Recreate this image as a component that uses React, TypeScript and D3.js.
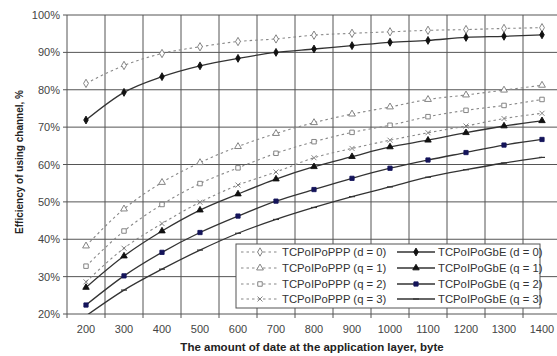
import React, { useRef, useEffect } from "react";
import * as d3 from "d3";

// packet sizes on the x axis (category axis, Excel style)
const sizes = ["200", "300", "400", "500", "600", "700", "800", "900", "1000", "1100", "1200", "1300", "1400"];
const yTicks = [20, 30, 40, 50, 60, 70, 80, 90, 100];

// efficiency, %
const pppD0 = [81.7, 86.5, 89.7, 91.5, 92.9, 93.6, 94.6, 95.1, 95.5, 95.9, 96.1, 96.4, 96.6];
const pppQ1 = [38.2, 48.1, 55.2, 60.5, 64.8, 68.3, 71.2, 73.5, 75.4, 77.4, 78.6, 79.9, 81.2];
const pppQ2 = [32.8, 42.2, 49.3, 54.9, 59.1, 63.0, 66.1, 68.6, 70.5, 72.8, 74.5, 75.8, 77.4];
const pppQ3 = [28.6, 37.6, 44.2, 49.9, 54.5, 58.0, 61.8, 64.3, 66.5, 68.5, 70.3, 72.3, 73.7];
const gbeD0 = [71.9, 79.3, 83.5, 86.4, 88.4, 90.0, 90.9, 91.8, 92.7, 93.2, 94.0, 94.3, 94.7];
const gbeQ1 = [27.1, 35.5, 42.2, 47.8, 52.1, 56.1, 59.4, 62.1, 64.7, 66.5, 68.5, 70.3, 71.7];
const gbeQ2 = [22.4, 30.2, 36.5, 41.8, 46.2, 50.2, 53.3, 56.3, 59.0, 61.2, 63.2, 65.2, 66.7];
const gbeQ3 = [19.5, 26.4, 32.0, 37.1, 41.6, 45.3, 48.5, 51.4, 54.0, 56.6, 58.6, 60.4, 61.9];

const series = [
  { label: "TCPoIPoPPP (d = 0)", values: pppD0, marker: "diamondOpen", dashed: true, color: "#888", mcolor: "#777" },
  { label: "TCPoIPoPPP (q = 1)", values: pppQ1, marker: "triangleOpen", dashed: true, color: "#888", mcolor: "#777" },
  { label: "TCPoIPoPPP (q = 2)", values: pppQ2, marker: "squareOpen", dashed: true, color: "#888", mcolor: "#777" },
  { label: "TCPoIPoPPP (q = 3)", values: pppQ3, marker: "x", dashed: true, color: "#888", mcolor: "#777" },
  { label: "TCPoIPoGbE (d = 0)", values: gbeD0, marker: "diamond", dashed: false, color: "#333", mcolor: "#111" },
  { label: "TCPoIPoGbE (q = 1)", values: gbeQ1, marker: "triangle", dashed: false, color: "#333", mcolor: "#111" },
  { label: "TCPoIPoGbE (q = 2)", values: gbeQ2, marker: "square", dashed: false, color: "#333", mcolor: "#14145a" },
  { label: "TCPoIPoGbE (q = 3)", values: gbeQ3, marker: "dash", dashed: false, color: "#333", mcolor: "#333" },
];

const W = 557;
const H = 356;
const FONT = "Liberation Sans, Arial, sans-serif";

function drawMarker(g: any, type: string, cx: number, cy: number, color: string) {
  const sym = (t: any, size: number, filled: boolean) =>
    g.append("path")
      .attr("d", d3.symbol().type(t).size(size)())
      .attr("transform", `translate(${cx},${cy})`)
      .attr("fill", filled ? color : "#fff")
      .attr("stroke", color)
      .attr("stroke-width", 0.9);
  if (type === "diamondOpen") sym(d3.symbolDiamond, 20, false);
  else if (type === "diamond") sym(d3.symbolDiamond, 18, true);
  else if (type === "triangleOpen") sym(d3.symbolTriangle, 20, false);
  else if (type === "triangle") sym(d3.symbolTriangle, 18, true);
  else if (type === "squareOpen") sym(d3.symbolSquare, 20, false);
  else if (type === "square") sym(d3.symbolSquare, 18, true);
  else if (type === "x") {
    g.append("path").attr("d", `M${cx - 2.5},${cy - 2.5}L${cx + 2.5},${cy + 2.5}M${cx - 2.5},${cy + 2.5}L${cx + 2.5},${cy - 2.5}`)
      .attr("stroke", color).attr("stroke-width", 0.9);
  } else if (type === "dash") {
    g.append("path").attr("d", `M${cx - 3},${cy}L${cx + 3},${cy}`).attr("stroke", color).attr("stroke-width", 1.2);
  }
}

export default function App() {
  const svgRef = useRef<SVGSVGElement>(null);

  useEffect(() => {
    if (!svgRef.current) return;
    const svg = d3.select(svgRef.current);
    svg.selectAll("*").remove();

    const left = 67, right = 561, top = 15, bottom = 314;
    const x = d3.scaleBand().domain(sizes).range([left, right]).padding(0);
    const y = d3.scaleLinear().domain([20, 100]).range([bottom, top]);
    const cx = (s: string) => (x(s) as number) + x.bandwidth() / 2;

    svg.append("rect").attr("width", W).attr("height", H).attr("fill", "#fff");

    // horizontal grid
    svg.append("g").selectAll("line").data(yTicks).join("line")
      .attr("x1", left - 4).attr("x2", right)
      .attr("y1", (d) => y(d)).attr("y2", (d) => y(d))
      .attr("stroke", "#555").attr("stroke-width", 1);

    // vertical grid at category boundaries
    const bounds = sizes.map((s) => x(s) as number).concat([right]);
    svg.append("g").selectAll("line").data(bounds).join("line")
      .attr("x1", (d) => d).attr("x2", (d) => d)
      .attr("y1", top).attr("y2", bottom + 4)
      .attr("stroke", "#555").attr("stroke-width", 1);

    // y labels
    svg.append("g").selectAll("text").data(yTicks).join("text")
      .attr("x", left - 7).attr("y", (d) => y(d) + 4)
      .attr("text-anchor", "end").attr("font-family", FONT).attr("font-size", 11).attr("fill", "#444")
      .text((d) => `${d}%`);

    // x labels
    svg.append("g").selectAll("text").data(sizes).join("text")
      .attr("x", (d) => cx(d)).attr("y", bottom + 19)
      .attr("text-anchor", "middle").attr("font-family", FONT).attr("font-size", 11).attr("fill", "#444")
      .text((d) => d);

    // axis titles
    svg.append("text").attr("x", 312).attr("y", 351).attr("text-anchor", "middle")
      .attr("font-family", FONT).attr("font-size", 11.5).attr("font-weight", "bold").attr("fill", "#222")
      .text("The amount of date at the application layer, byte");
    svg.append("text").attr("transform", "translate(23,162) rotate(-90)").attr("text-anchor", "middle")
      .attr("font-family", FONT).attr("font-size", 10).attr("font-weight", "bold").attr("fill", "#222")
      .text("Efficiency of using channel, %");

    // lines
    svg.append("clipPath").attr("id", "plotclip").append("rect")
      .attr("x", left).attr("y", top - 6).attr("width", right - left).attr("height", bottom - top + 6);
    const plot = svg.append("g").attr("clip-path", "url(#plotclip)");
    const line = d3.line<number>().x((_, i) => cx(sizes[i])).y((d) => y(d)).curve(d3.curveMonotoneX);
    series.forEach((s) => {
      plot.append("path").datum(s.values).attr("d", line).attr("fill", "none")
        .attr("stroke", s.color).attr("stroke-width", s.dashed ? 1.1 : 1.3)
        .attr("stroke-dasharray", s.dashed ? "2.5,3" : null);
    });
    series.forEach((s) => {
      s.values.forEach((v, i) => {
        if (v < 20) return;
        drawMarker(plot, s.marker, cx(sizes[i]), y(v), s.mcolor);
      });
    });

    // legend
    const lg = svg.append("g");
    lg.append("rect").attr("x", 236).attr("y", 244).attr("width", 304).attr("height", 64)
      .attr("fill", "#fff").attr("stroke", "#555").attr("stroke-width", 1);
    const rowsY = [252, 268, 284, 299];
    series.forEach((s, i) => {
      const col = Math.floor(i / 4);
      const ry = rowsY[i % 4];
      const x0 = col === 0 ? 241 : 397;
      const x1 = col === 0 ? 279 : 435;
      lg.append("line").attr("x1", x0).attr("x2", x1).attr("y1", ry).attr("y2", ry)
        .attr("stroke", s.color).attr("stroke-width", s.dashed ? 1.1 : 1.3)
        .attr("stroke-dasharray", s.dashed ? "2.5,3" : null);
      drawMarker(lg, s.marker, (x0 + x1) / 2, ry, s.mcolor);
      lg.append("text").attr("x", x1 + 3).attr("y", ry + 4)
        .attr("font-family", FONT).attr("font-size", 11.3).attr("fill", "#333")
        .text(s.label);
    });
  }, []);

  return (
    <div style={{ position: "absolute", left: 0, top: 0 }}>
      <svg ref={svgRef} width={W} height={H} style={{ display: "block" }} />
    </div>
  );
}
